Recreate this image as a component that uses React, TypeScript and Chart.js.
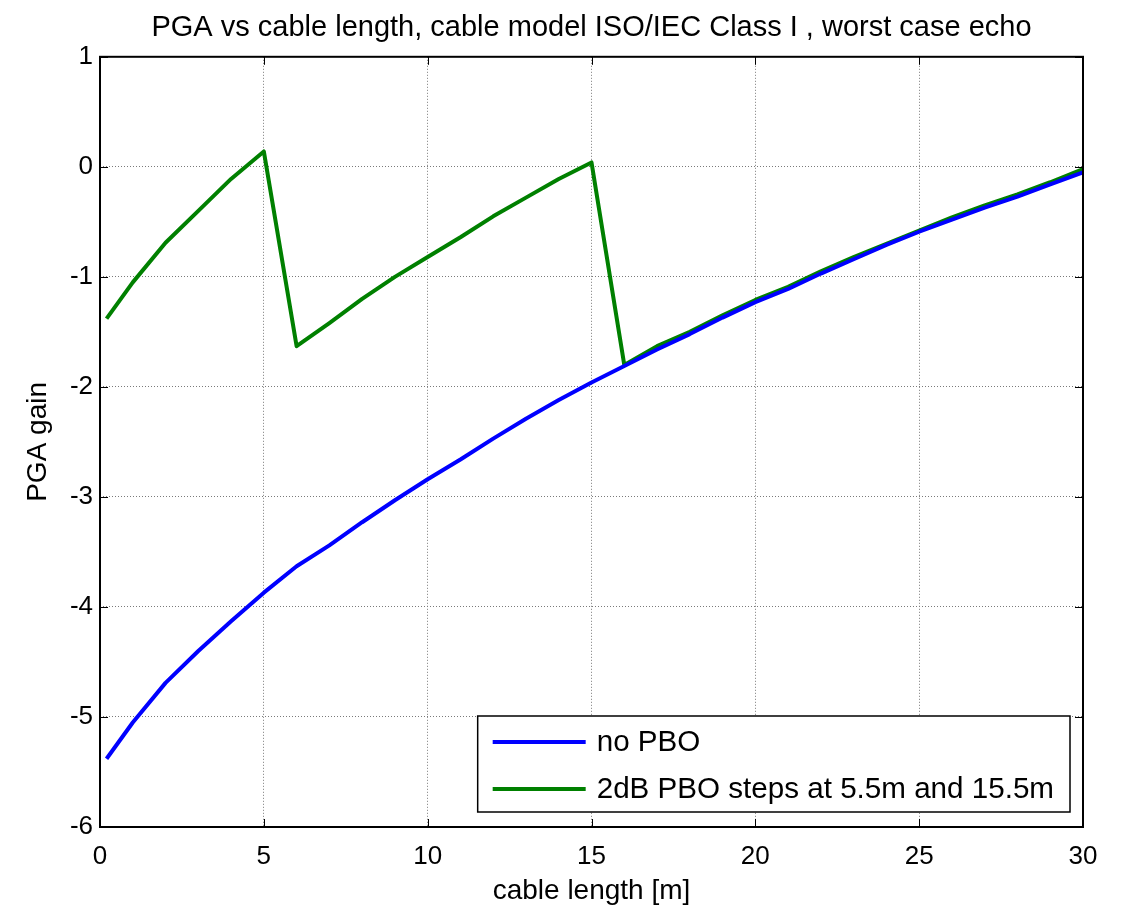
import React, { useEffect, useRef } from 'react';
import { Chart, registerables } from 'chart.js';

Chart.register(...registerables);

const FONT = '"Liberation Sans", Arial, Helvetica, sans-serif';

const titleText = 'PGA vs cable length, cable model ISO/IEC Class I , worst case echo';
const xAxisLabel = 'cable length [m]';
const yAxisLabel = 'PGA gain';
const seriesLabels = ['no PBO', '2dB PBO steps at 5.5m and 15.5m'];
const seriesColors = ['#0000ff', '#008000'];

const cableLength = [
  0.2, 1, 2, 3, 4, 5, 6, 7, 8, 9, 10, 11, 12, 13, 14, 15,
  16, 17, 18, 19, 20, 21, 22, 23, 24, 25, 26, 27, 28, 29, 30,
];

const noPbo = [
  -5.38, -5.05, -4.69, -4.40, -4.13, -3.87, -3.63, -3.44, -3.23, -3.03, -2.84,
  -2.66, -2.47, -2.29, -2.12, -1.96, -1.81, -1.66, -1.52, -1.37, -1.23,
  -1.11, -0.97, -0.84, -0.71, -0.59, -0.48, -0.37, -0.27, -0.16, -0.05,
];

const pboSteps = [
  -1.38, -1.05, -0.69, -0.40, -0.11, 0.14, -1.63, -1.42, -1.20, -1.00, -0.82,
  -0.64, -0.45, -0.28, -0.11, 0.04, -1.80, -1.63, -1.50, -1.35, -1.21,
  -1.09, -0.95, -0.82, -0.70, -0.58, -0.46, -0.35, -0.25, -0.14, -0.02,
];

const xMin = 0;
const xMax = 30;
const xStep = 5;
const yMin = -6;
const yMax = 1;
const yStep = 1;

const framePlugin = {
  id: 'matlabFrame',
  afterDraw(chart: any) {
    const { ctx, chartArea } = chart;
    const { left, right, top, bottom } = chartArea;
    const xs = chart.scales.x;
    const ys = chart.scales.y;
    ctx.save();
    ctx.strokeStyle = '#000';
    ctx.lineWidth = 1;
    ctx.setLineDash([]);
    const tl = 8;
    ctx.beginPath();
    xs.ticks.forEach((t: any) => {
      const px = Math.round(xs.getPixelForValue(t.value)) + 0.5;
      ctx.moveTo(px, bottom);
      ctx.lineTo(px, bottom - tl);
      ctx.moveTo(px, top);
      ctx.lineTo(px, top + tl);
    });
    ys.ticks.forEach((t: any) => {
      const py = Math.round(ys.getPixelForValue(t.value)) + 0.5;
      ctx.moveTo(left, py);
      ctx.lineTo(left + tl, py);
      ctx.moveTo(right, py);
      ctx.lineTo(right - tl, py);
    });
    ctx.stroke();
    ctx.lineWidth = 2;
    ctx.strokeRect(left, top, right - left, bottom - top);
    ctx.restore();

    // legend box inside the plot (bottom-right)
    const fontSize = 29.6;
    ctx.save();
    ctx.font = `${fontSize}px ${FONT}`;
    const datasets = chart.data.datasets;
    const widths = datasets.map((d: any) => ctx.measureText(d.label).width);
    const maxW = Math.max(...widths);
    const padL = 15;
    const lineLen = 93;
    const gap = 11;
    const padR = 16;
    const rowH = 47;
    const boxH = 96;
    const boxW = padL + lineLen + gap + maxW + padR;
    const bx = right - 13 - boxW;
    const by = bottom - 15 - boxH;
    ctx.fillStyle = '#fff';
    ctx.fillRect(bx, by, boxW, boxH);
    ctx.strokeStyle = '#000';
    ctx.lineWidth = 1.5;
    ctx.strokeRect(bx, by, boxW, boxH);
    datasets.forEach((d: any, i: number) => {
      const cy = by + 26 + i * rowH;
      ctx.strokeStyle = d.borderColor;
      ctx.lineWidth = 4;
      ctx.beginPath();
      ctx.moveTo(bx + padL, cy);
      ctx.lineTo(bx + padL + lineLen, cy);
      ctx.stroke();
      ctx.fillStyle = '#000';
      ctx.textBaseline = 'middle';
      ctx.textAlign = 'left';
      ctx.fillText(d.label, bx + padL + lineLen + gap, cy + 1);
    });
    ctx.restore();
  },
};

export default function App() {
  const ref = useRef<HTMLCanvasElement>(null);

  useEffect(() => {
    const canvas = ref.current;
    if (!canvas) return;
    const series = [noPbo, pboSteps];
    const chart = new Chart(canvas, {
      type: 'line',
      data: {
        datasets: series.map((vals, i) => ({
          label: seriesLabels[i],
          data: cableLength.map((x, j) => ({ x, y: vals[j] })),
          borderColor: seriesColors[i],
          backgroundColor: seriesColors[i],
          borderWidth: 4,
          pointRadius: 0,
          tension: 0,
          fill: false,
          borderJoinStyle: 'round',
        })),
      },
      options: {
        responsive: false,
        animation: false,
        events: [],
        layout: { padding: { left: 0, right: 44, top: 0, bottom: 0 } },
        plugins: {
          legend: { display: false },
          tooltip: { enabled: false },
          title: {
            display: true,
            fullSize: false,
            text: titleText,
            color: '#000',
            font: { family: FONT, size: 29, weight: 'normal' },
            padding: { top: 11, bottom: 11 },
          },
        },
        scales: {
          x: {
            type: 'linear',
            min: xMin,
            max: xMax,
            afterFit: (s: any) => {
              s.height = 82;
            },
            border: { display: false, dash: [1, 2] },
            grid: { color: '#7a7a7a', lineWidth: 1, drawTicks: false },
            ticks: {
              stepSize: xStep,
              color: '#000',
              font: { family: FONT, size: 26 },
              padding: 14,
              maxRotation: 0,
            },
            title: {
              display: true,
              text: xAxisLabel,
              color: '#000',
              font: { family: FONT, size: 28 },
              padding: { top: 0, bottom: 1 },
            },
          },
          y: {
            type: 'linear',
            min: yMin,
            max: yMax,
            afterFit: (s: any) => {
              s.width = 100;
            },
            border: { display: false, dash: [1, 2] },
            grid: { color: '#7a7a7a', lineWidth: 1, drawTicks: false },
            ticks: {
              stepSize: yStep,
              color: '#000',
              font: { family: FONT, size: 26 },
              padding: 7,
            },
            title: {
              display: true,
              text: yAxisLabel,
              color: '#000',
              font: { family: FONT, size: 28 },
              padding: { top: 21, bottom: 0 },
            },
          },
        },
      } as any,
      plugins: [framePlugin],
    });
    return () => chart.destroy();
  }, []);

  return (
    <div style={{ position: 'absolute', left: 0, top: 0, width: 1127, height: 909, background: '#fff' }}>
      <canvas ref={ref} width={1127} height={909} style={{ display: 'block' }} />
    </div>
  );
}
